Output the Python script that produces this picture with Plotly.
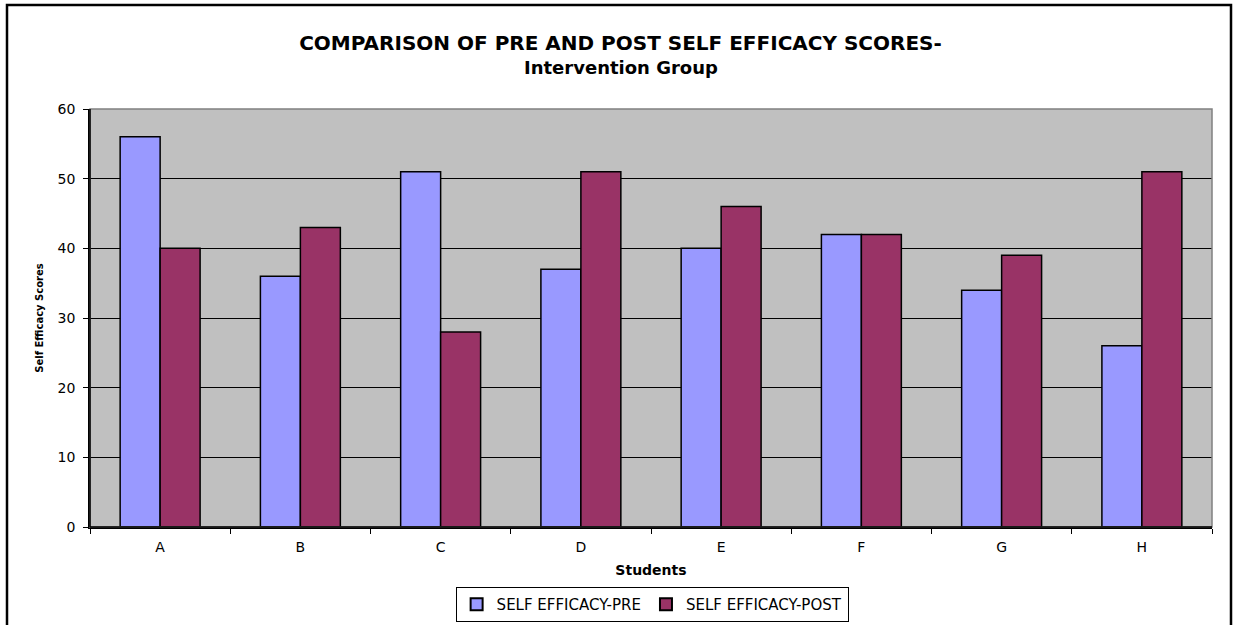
import plotly.graph_objects as go

# Student labels and self efficacy scores before / after the intervention
students = ["A", "B", "C", "D", "E", "F", "G", "H"]
pre_scores = [56, 36, 51, 37, 40, 42, 34, 26]
post_scores = [40, 43, 28, 51, 46, 42, 39, 51]
y_ticks = [0, 10, 20, 30, 40, 50, 60]

FONT = "DejaVu Sans, Arial, sans-serif"

fig = go.Figure()
fig.add_trace(go.Bar(
    x=students, y=pre_scores, name="SELF EFFICACY-PRE",
    marker=dict(color="#9999FF", line=dict(color="black", width=1.5)),
))
fig.add_trace(go.Bar(
    x=students, y=post_scores, name="SELF EFFICACY-POST",
    marker=dict(color="#993366", line=dict(color="black", width=1.5)),
))

fig.update_layout(
    width=1236, height=625,
    margin=dict(l=90, r=24, t=109, b=98, autoexpand=False),
    paper_bgcolor="white",
    plot_bgcolor="#C0C0C0",
    barmode="group",
    bargap=0.43,
    bargroupgap=0,
    font=dict(family=FONT, color="black", size=13),
    title=dict(
        text="<b>COMPARISON OF PRE AND POST SELF EFFICACY SCORES-</b>",
        font=dict(family=FONT, size=20, color="black"),
        x=0.502, xref="container", xanchor="center",
        y=1 - 43 / 625, yref="container", yanchor="middle",
    ),
    annotations=[
        # second title line, set a little tighter than a <br> line break
        dict(text="<b>Intervention Group</b>", showarrow=False,
             xref="paper", yref="paper", x=(621 - 90) / 1122, y=1 + (109 - 67) / 418,
             xanchor="center", yanchor="middle",
             font=dict(family=FONT, size=18, color="black")),
    ],
    legend=dict(
        orientation="h",
        x=0.501, xanchor="center",
        y=(625 - 604.5) / 625, yref="container", yanchor="middle",
        bordercolor="black", borderwidth=1,
        font=dict(family=FONT, size=15, color="black"),
        itemsizing="constant",
        traceorder="normal",
        tracegroupgap=0,
        itemwidth=30,
    ),
    xaxis=dict(
        automargin=False,
        showline=True, linecolor="black", linewidth=1.5,
        ticks="outside", tickson="boundaries", ticklen=5, tickcolor="black",
        ticklabelstandoff=6,
        tickfont=dict(family=FONT, size=14),
        title=dict(text="<b>Students</b>", font=dict(family=FONT, size=14), standoff=12),
        showgrid=False,
    ),
    yaxis=dict(
        automargin=False,
        range=[0, 60],
        tickvals=y_ticks,
        showline=True, linecolor="black", linewidth=1.5,
        ticks="outside", ticklen=5, tickcolor="black",
        ticklabelstandoff=5,
        tickfont=dict(family=FONT, size=14),
        showgrid=True, gridcolor="black", gridwidth=1,
        zeroline=False,
        title=dict(text="<b>Self Efficacy Scores</b>", font=dict(family=FONT, size=10), standoff=12),
    ),
    shapes=[
        # grey frame around the plotting area (top and right edges)
        dict(type="rect", xref="paper", yref="paper", x0=0, x1=1, y0=0, y1=1,
             line=dict(color="#808080", width=1.5), layer="above"),
        # redraw the left and bottom axis lines over the frame
        dict(type="line", xref="paper", yref="paper", x0=0, x1=0, y0=0, y1=1,
             line=dict(color="black", width=1.5), layer="above"),
        dict(type="line", xref="paper", yref="paper", x0=0, x1=1, y0=0, y1=0,
             line=dict(color="black", width=1.5), layer="above"),
        # outer chart border
        dict(type="rect", xref="paper", yref="paper",
             x0=(7 - 90) / 1122, x1=(1231 - 90) / 1122,
             y0=-0.3, y1=1 + 104 / 418,
             line=dict(color="black", width=2.5), layer="above"),
    ],
)

fig.write_html("out.html")
